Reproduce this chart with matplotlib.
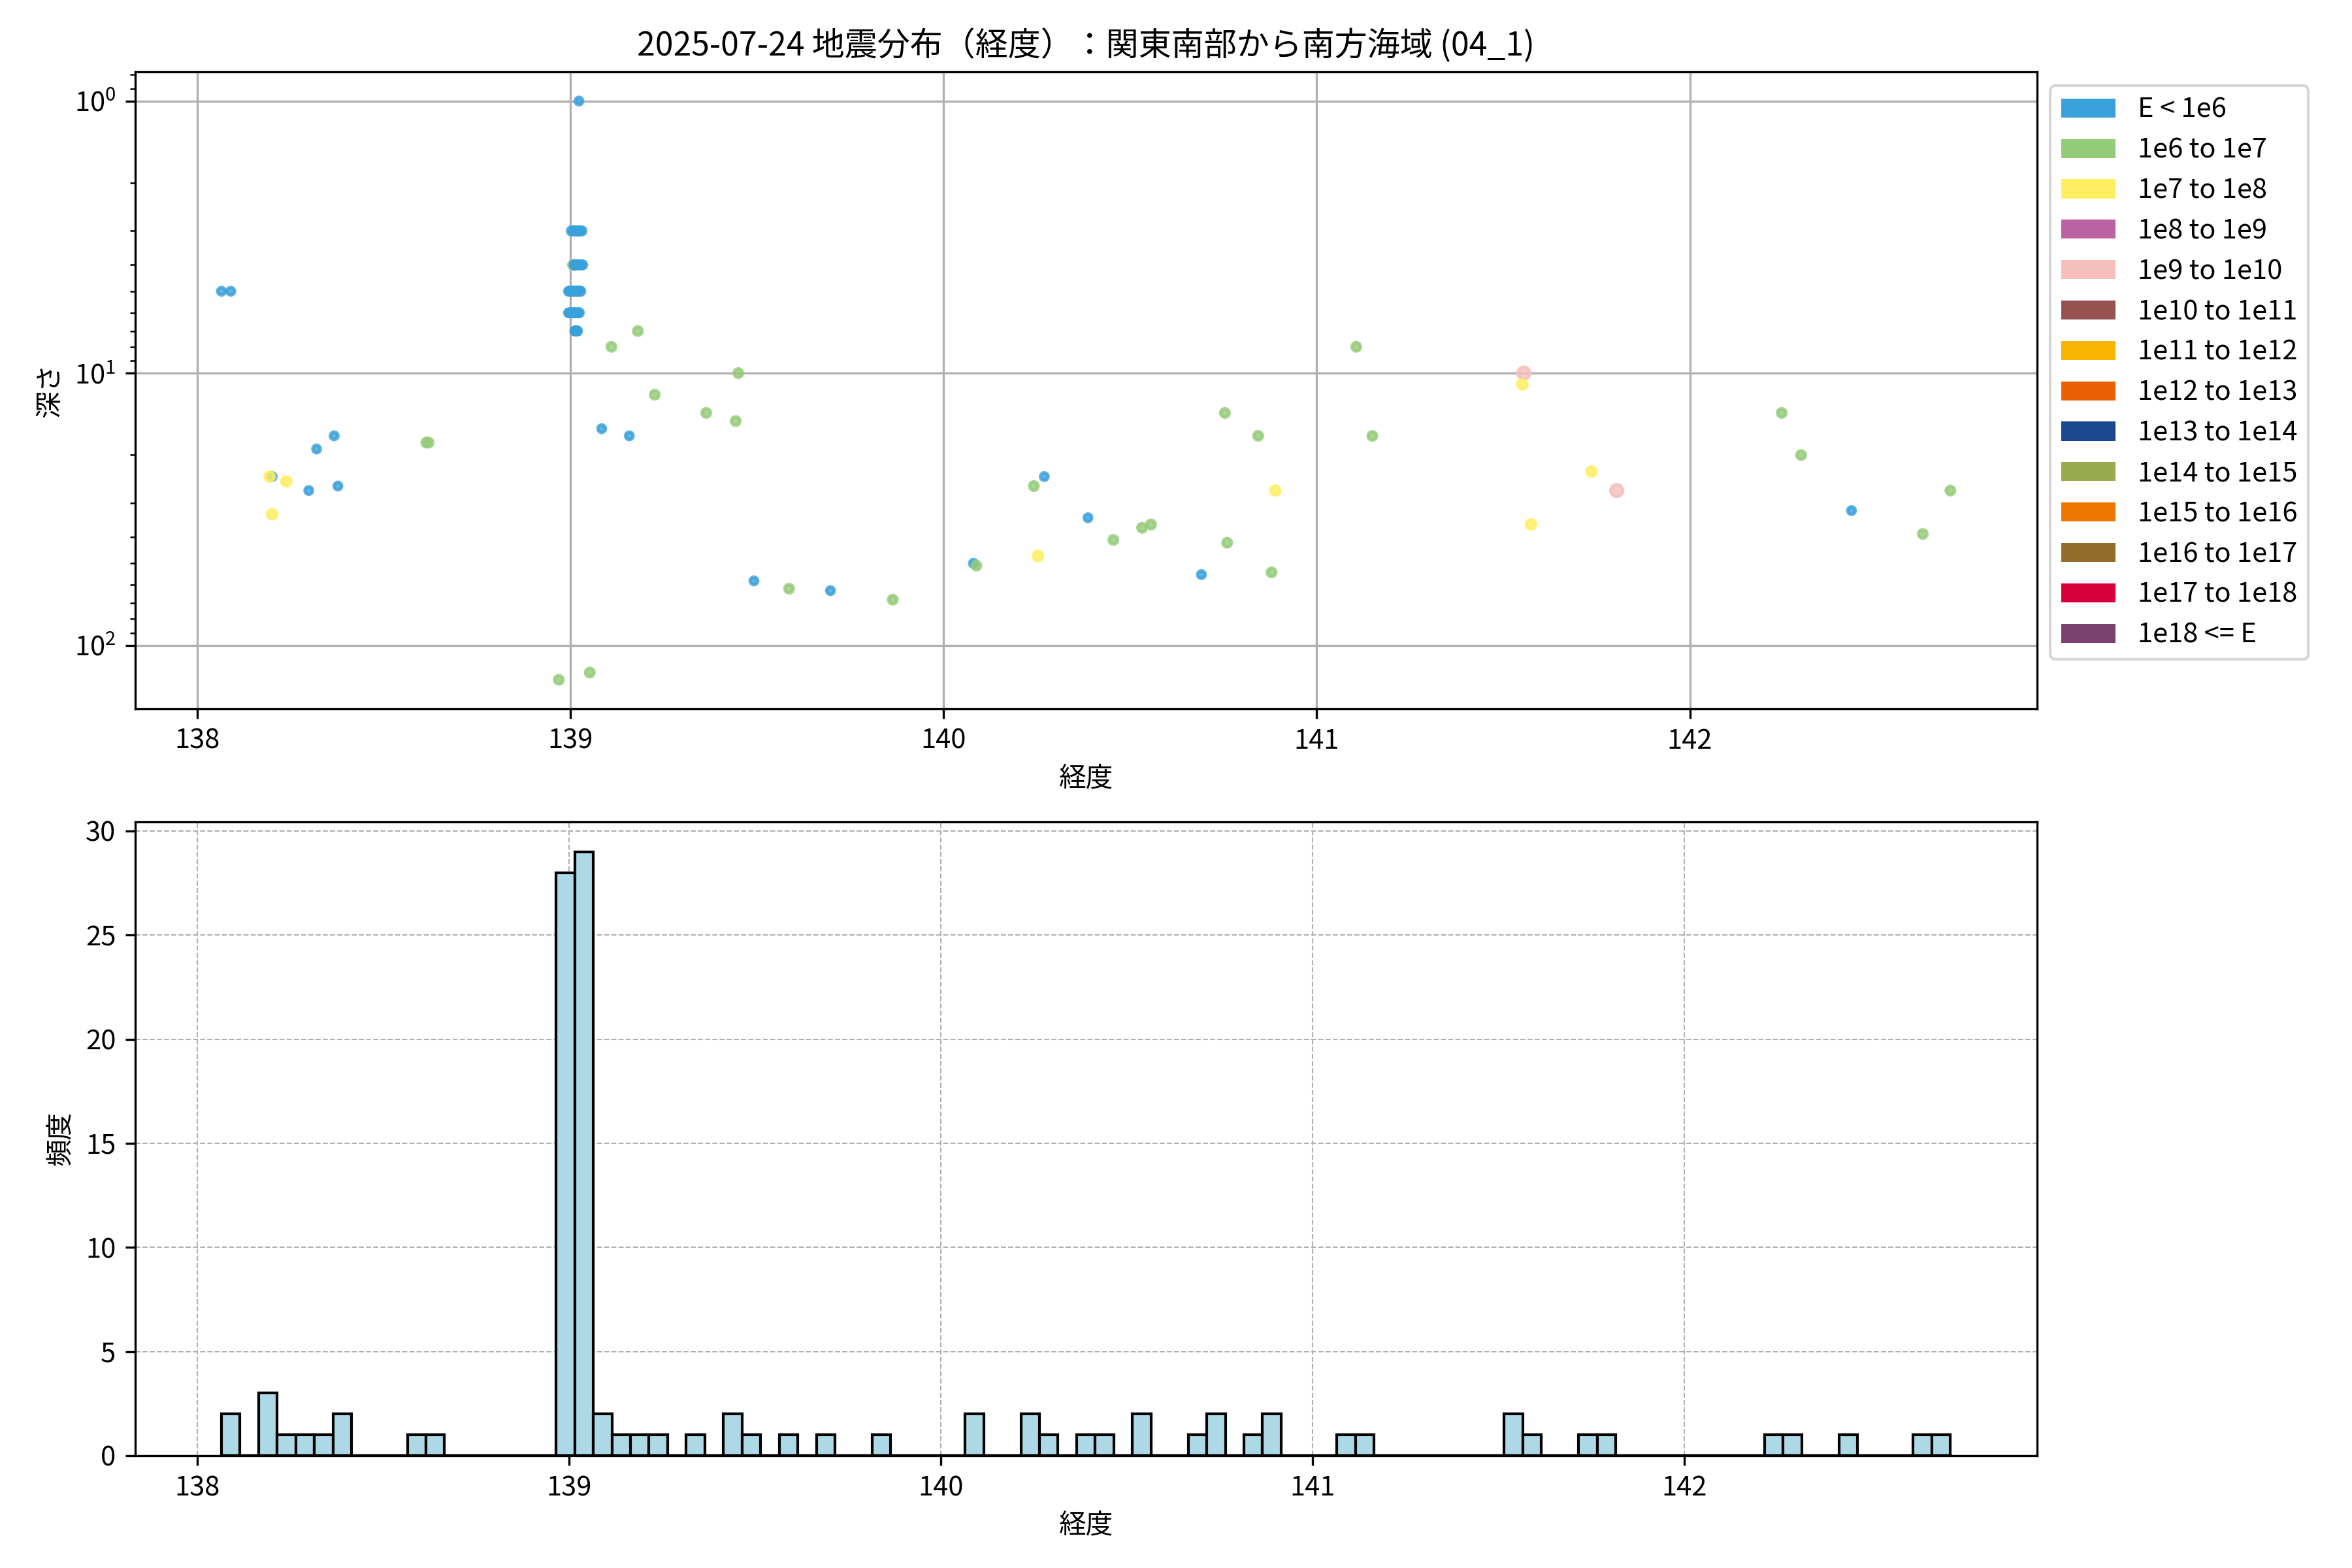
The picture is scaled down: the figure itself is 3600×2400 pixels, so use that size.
import numpy as np
import matplotlib
matplotlib.use("Agg")
import matplotlib.pyplot as plt
from matplotlib.patches import Patch

plt.rcParams['font.family'] = ['Noto Sans CJK JP', 'DejaVu Sans']
plt.rcParams['mathtext.fontset'] = 'custom'
plt.rcParams['mathtext.rm'] = 'Noto Sans CJK JP'
plt.rcParams['mathtext.it'] = 'Noto Sans CJK JP'
plt.rcParams['axes.unicode_minus'] = False

# ---------------- data ----------------
title = "2025-07-24 地震分布（経度）：関東南部から南方海域 (04_1)"

class_labels = ["E < 1e6", "1e6 to 1e7", "1e7 to 1e8", "1e8 to 1e9", "1e9 to 1e10",
                "1e10 to 1e11", "1e11 to 1e12", "1e12 to 1e13", "1e13 to 1e14",
                "1e14 to 1e15", "1e15 to 1e16", "1e16 to 1e17", "1e17 to 1e18",
                "1e18 <= E"]
class_colors = ["#3AA0DA", "#94CB78", "#FFEE60", "#BB62A2", "#F5BFBC",
                "#96524E", "#F7B500", "#EA6104", "#1B478E", "#9AAA4F",
                "#EE7700", "#946D2D", "#D9003A", "#7A4170"]

# cluster near 139.0E (rows by depth)
cluster_lon = [139.007, 139.013,
               139.002, 139.008, 139.012, 139.013, 139.014, 139.016, 139.018, 139.020, 139.022, 139.025, 139.028, 139.031,
               139.010, 139.012, 139.014, 139.016, 139.018, 139.021, 139.024, 139.027, 139.030, 139.033,
               138.995, 138.998, 139.002, 139.005, 139.008, 139.010, 139.012, 139.017, 139.016, 139.019, 139.022, 139.025, 139.028,
               138.995, 138.998, 139.002, 139.005, 139.008, 139.011, 139.013, 139.016, 139.019, 139.022, 139.024,
               139.012, 139.013, 139.014, 139.017, 139.018, 139.019]
cluster_depth = [4, 4,
                 3, 3, 3, 3, 3, 3, 3, 3, 3, 3, 3, 3,
                 4, 4, 4, 4, 4, 4, 4, 4, 4, 4,
                 5, 5, 5, 5, 5, 5, 5, 5, 5, 5, 5, 5, 5,
                 6, 6, 6, 6, 6, 6, 6, 6, 6, 6, 6,
                 7, 7, 7, 7, 7, 7]
cluster_cls = [1, 1] + [0] * 52

other_lon = [138.065, 138.090, 138.201, 138.194, 138.239, 138.201, 138.299, 138.320,
             138.367, 138.377, 138.614, 138.620, 138.969, 139.023, 139.052, 139.084,
             139.110, 139.158, 139.181, 139.226, 139.364, 139.443, 139.450, 139.492,
             139.586, 139.697, 139.864, 140.080, 140.088, 140.242, 140.253, 140.270,
             140.387, 140.455, 140.532, 140.556, 140.691, 140.754, 140.760, 140.843,
             140.879, 140.889, 141.106, 141.149, 141.555, 141.551, 141.574, 141.736,
             141.804, 142.246, 142.298, 142.433, 142.624, 142.698]
other_depth = [5, 5, 24, 24, 25, 33, 27, 19,
               17, 26, 18, 18, 134, 1, 126, 16,
               8, 17, 7, 12, 14, 15, 10, 58,
               62, 63, 68, 50, 51, 26, 47, 24,
               34, 41, 37, 36, 55, 14, 42, 17,
               54, 27, 8, 17, 10, 11, 36, 23,
               27, 14, 20, 32, 39, 27]
other_cls = [0, 0, 0, 2, 2, 2, 0, 0,
             0, 0, 1, 1, 1, 0, 1, 0,
             1, 0, 1, 1, 1, 1, 1, 0,
             1, 0, 1, 0, 1, 1, 2, 0,
             0, 1, 1, 1, 0, 1, 1, 1,
             1, 2, 1, 1, 4, 2, 2, 2,
             4, 1, 1, 0, 1, 1]

lon = np.array(cluster_lon + other_lon)
depth = np.array(cluster_depth + other_depth, dtype=float)
cls = np.array(cluster_cls + other_cls)

# ---------------- style ----------------
class_sizes = [8, 10, 12, 15, 20, 23, 26, 29, 32, 35, 38, 41, 44, 47]

fig = plt.figure(figsize=(12, 8), dpi=300)
ax1 = fig.add_axes([0.0574, 0.548, 0.8086, 0.406])
ax2 = fig.add_axes([0.0574, 0.0717, 0.8086, 0.4043])

colors = [class_colors[c] for c in cls]
sizes = [class_sizes[c] for c in cls]
ax1.scatter(lon, depth, c=colors, s=sizes, alpha=0.8, edgecolors=colors, linewidths=1.2, zorder=3)
ax1.set_yscale('log')
ax1.invert_yaxis()
ax1.set_xticks([138, 139, 140, 141, 142])
ax1.grid(True, which='major', color='#b0b0b0', linewidth=0.8)
ax1.set_axisbelow(True)
ax1.set_xlabel("経度")
ax1.set_ylabel("深さ")
ax1.set_title(title, fontsize=12)

handles = [Patch(facecolor=col, label=lab) for col, lab in zip(class_colors, class_labels)]
ax1.legend(handles=handles, loc='upper left', bbox_to_anchor=(1.0, 1.0), fontsize=10)

bins = np.arange(lon.min(), lon.max() + 0.05, 0.05)
ax2.hist(lon, bins=bins, color='lightblue', edgecolor='black', linewidth=1.0, zorder=3)
ax2.set_xticks([138, 139, 140, 141, 142])
ax2.grid(True, linestyle='--', color='#b0b0b0', linewidth=0.5)
ax2.set_axisbelow(True)
ax2.set_xlabel("経度")
ax2.set_ylabel("頻度")

fig.savefig("out.png", dpi=300)
